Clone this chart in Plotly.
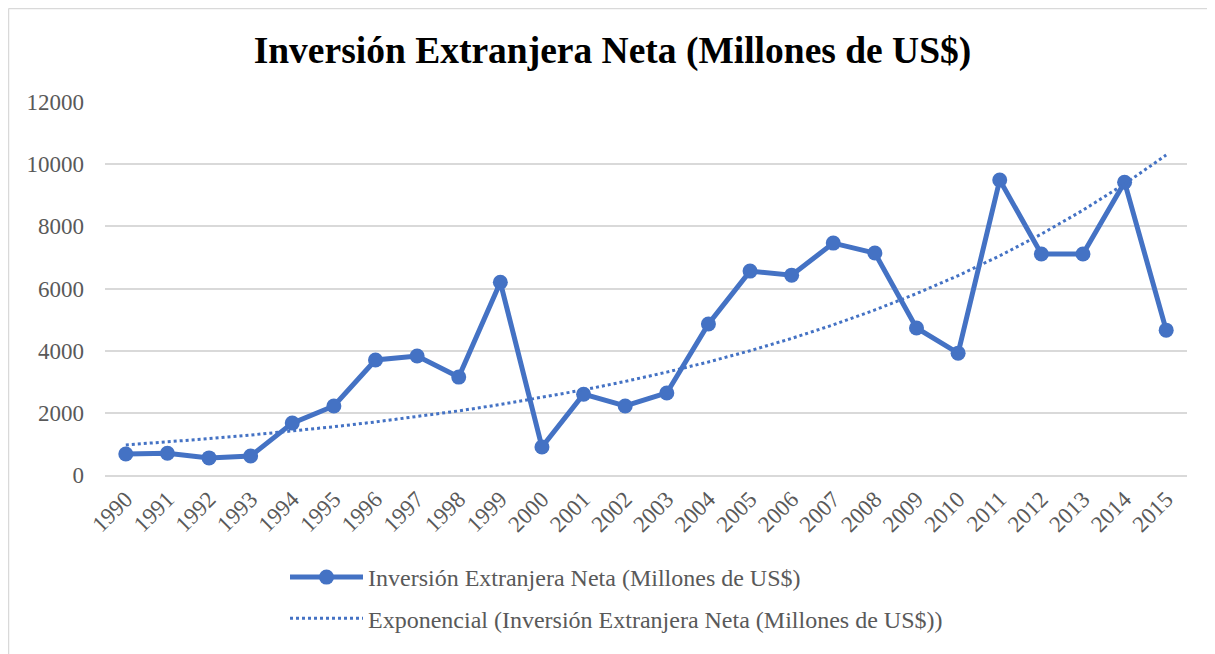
import numpy as np
import plotly.graph_objects as go

years = [str(y) for y in range(1990, 2016)]
inversion = [675, 700, 550, 610, 1670, 2220, 3700, 3830, 3150, 6200,
             900, 2600, 2220, 2640, 4860, 6560, 6430, 7460, 7140, 4730,
             3920, 9490, 7110, 7110, 9420, 4660]
y_ticks = [0, 2000, 4000, 6000, 8000, 10000, 12000]

series_name = "Inversión Extranjera Neta (Millones de US$)"
trend_name = "Exponencial (Inversión Extranjera Neta (Millones de US$))"

# Exponential trendline (least squares on log values, as Excel does)
xs = np.arange(1, len(inversion) + 1)
b, a = np.polyfit(xs, np.log(inversion), 1)
trend = np.exp(a + b * xs)

OFF = 8  # page body margin
W, H = 1215 - OFF, 654 - OFF
ml, mr, mt, mb = 105 - OFF, 28, 102 - OFF, 179
pw, ph = W - ml - mr, H - mt - mb
COLOR = "#4472C4"
FONT = "Liberation Serif"

fig = go.Figure()
fig.add_trace(go.Scatter(
    x=years, y=inversion, name=series_name, mode="lines+markers",
    line=dict(color=COLOR, width=5), legendgroup="a",
    marker=dict(color=COLOR, size=15),
))
fig.add_trace(go.Scatter(
    x=years, y=trend, name=trend_name, mode="lines", legendgroup="b",
    line=dict(color=COLOR, width=3, dash="dot"),
))

def px_x(p):  # page pixel -> paper
    return (p - OFF - ml) / pw

def px_y(p):
    return (H - mb - (p - OFF)) / ph

def cy(p):  # page pixel -> container fraction
    return 1 - (p - OFF) / H

def cx(p):
    return (p - OFF) / W

# chart-area border (top and left edges visible)
fig.add_shape(type="line", xref="paper", yref="paper",
              x0=px_x(8.5), x1=px_x(1230), y0=px_y(8.5), y1=px_y(8.5),
              line=dict(color="#D9D9D9", width=1.5))
fig.add_shape(type="line", xref="paper", yref="paper",
              x0=px_x(8.5), x1=px_x(8.5), y0=px_y(8.5), y1=px_y(670),
              line=dict(color="#D9D9D9", width=1.5))

fig.update_layout(
    width=W, height=H,
    margin=dict(l=ml, r=mr, t=mt, b=mb, autoexpand=False),
    paper_bgcolor="white", plot_bgcolor="white",
    title=dict(text="<b>Inversión Extranjera Neta (Millones de US$)</b>",
               x=cx(612.5), xanchor="center",
               y=cy(50), yanchor="middle",
               font=dict(family=FONT, size=37.5, color="black")),
    font=dict(family=FONT, size=23, color="#595959"),
    xaxis=dict(type="category", range=[-0.5, 25.5], tickangle=-45,
               showgrid=False, showline=True, linecolor="#D9D9D9", linewidth=1.5,
               ticks="", tickfont=dict(family=FONT, size=23, color="#595959")),
    yaxis=dict(range=[0, 12000], tickvals=y_ticks, ticktext=[str(v) for v in y_ticks],
               showgrid=True, gridcolor="#D9D9D9", gridwidth=1.5, zeroline=False,
               showline=False, ticks="", ticklabelstandoff=20,
               tickfont=dict(family=FONT, size=23, color="#595959")),
    legend=dict(orientation="v", xref="container", x=cx(285), xanchor="left",
                yref="container", y=cy(555), yanchor="top",
                font=dict(family=FONT, size=24, color="#595959"),
                itemwidth=73, tracegroupgap=7, bgcolor="rgba(0,0,0,0)"),
    showlegend=True,
)

fig.write_html("out.html")
